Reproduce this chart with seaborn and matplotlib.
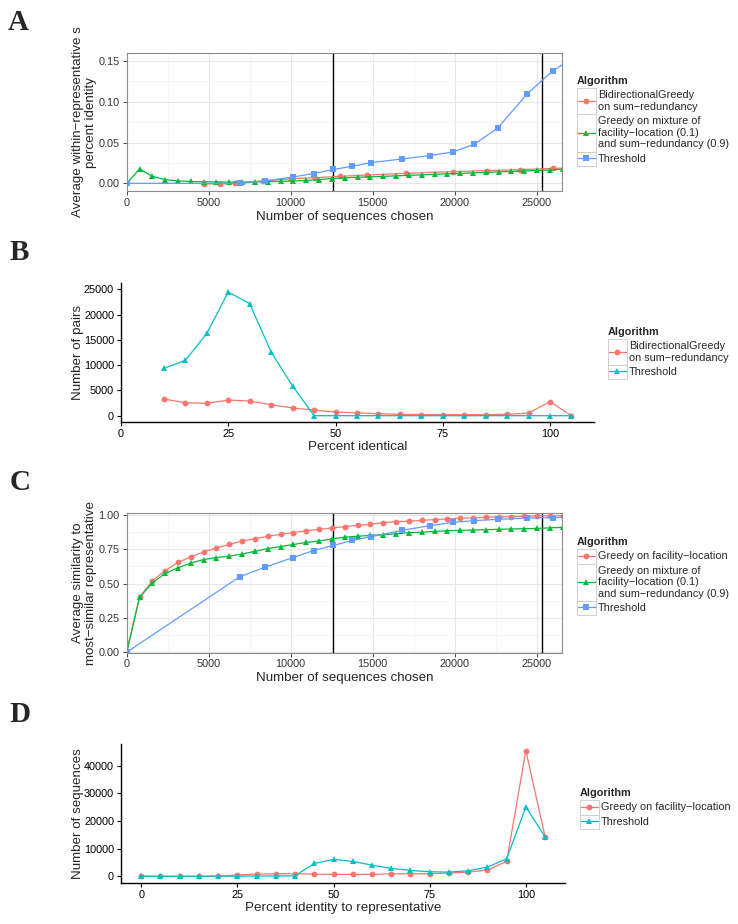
import pandas as pd
import matplotlib
matplotlib.use("Agg")
import matplotlib.pyplot as plt
from matplotlib.ticker import MultipleLocator, FormatStrFormatter
from matplotlib.patches import Rectangle
import seaborn as sns

# ---------------- data ----------------
BIDIR = "BidirectionalGreedy\non sum−redundancy"
MIX = "Greedy on mixture of\nfacility−location (0.1)\nand sum−redundancy (0.9)"
FL = "Greedy on facility−location"
THR = "Threshold"

# panel A : average within-representative percent identity
a_bidir_x = [4700, 5700, 6600, 8300, 10000, 11500, 13000, 14650, 17050, 19900, 21950, 24000, 26000, 27000]
a_bidir_y = [-0.0006, -0.0006, -0.0002, 0.003, 0.0055, 0.007, 0.0086, 0.0102, 0.0123, 0.0143, 0.0156, 0.0168, 0.0182, 0.019]
a_mix_x = [0, 782, 1564, 2346, 3128, 3910, 4692, 5474, 6256, 7038, 7820, 8602, 9384, 10166, 10948,
           11730, 12512, 13294, 14076, 14858, 15640, 16422, 17204, 17986, 18768, 19550, 20332, 21114,
           21896, 22678, 23460, 24242, 25024, 25806, 26588]
a_mix_y = [0, 0.0176, 0.0086, 0.0045, 0.003, 0.0023, 0.002, 0.0017, 0.0015, 0.0015, 0.0017, 0.0021,
           0.0025, 0.0028, 0.0035, 0.0045, 0.0058, 0.0068, 0.0074, 0.008, 0.0086, 0.0092, 0.0098,
           0.0104, 0.011, 0.0116, 0.0122, 0.0128, 0.0134, 0.014, 0.0146, 0.0152, 0.0158, 0.0164, 0.0172]
thr_x = [0, 6880, 8450, 10150, 11400, 12600, 13750, 14900, 16800, 18470, 19900, 21200, 22620, 24430, 25990, 27500]
a_thr_y = [0, 0, 0.003, 0.0078, 0.012, 0.017, 0.021, 0.0254, 0.0299, 0.034, 0.0385, 0.048, 0.0677, 0.110, 0.138, 0.158]

# panel B : number of pairs by percent identical
b_x = [10, 15, 20, 25, 30, 35, 40, 45, 50, 55, 60, 65, 70, 75, 80, 85, 90, 95, 100, 105]
b_bidir = [3300, 2570, 2440, 3100, 2900, 2175, 1520, 1120, 725, 560, 400, 260, 230, 200, 200, 200, 260, 530, 2770, 0]
b_thr = [9360, 10950, 16280, 24460, 22150, 12590, 5870, 0, 0, 0, 0, 0, 0, 0, 0, 0, 0, 0, 0, 0]

# panel C : average similarity to most-similar representative
c_fl_y = [0, 0.40, 0.52, 0.595, 0.654, 0.695, 0.73, 0.76, 0.785, 0.81, 0.827, 0.844, 0.859, 0.871,
          0.885, 0.895, 0.905, 0.915, 0.924, 0.932, 0.944, 0.951, 0.954, 0.961, 0.966, 0.971, 0.976,
          0.978, 0.983, 0.985, 0.988, 0.99, 0.993, 0.995, 0.995]
c_mix_y = [0, 0.40, 0.505, 0.575, 0.615, 0.65, 0.675, 0.69, 0.70, 0.715, 0.735, 0.755, 0.77, 0.785,
           0.80, 0.81, 0.826, 0.838, 0.845, 0.851, 0.856, 0.863, 0.871, 0.874, 0.88, 0.885, 0.888,
           0.89, 0.893, 0.895, 0.898, 0.9, 0.902, 0.906, 0.91]
c_thr_y = [0, 0.549, 0.62, 0.69, 0.741, 0.778, 0.814, 0.841, 0.888, 0.922, 0.946, 0.959, 0.968, 0.978, 0.980, 0.99]

# panel D : number of sequences by percent identity to representative
d_x = [0, 5, 10, 15, 20, 25, 30, 35, 40, 45, 50, 55, 60, 65, 70, 75, 80, 85, 90, 95, 100, 105]
d_fl = [0, 0, 0, 0, 100, 480, 840, 960, 960, 840, 720, 720, 720, 960, 960, 960, 1200, 1560, 2280, 5400, 45500, 14300]
d_thr = [100, 50, 50, 50, 100, 100, 150, 150, 200, 4680, 6130, 5400, 4080, 2880, 2160, 1680, 1560, 2040, 3360, 6370, 25100, 14290]

vlines = [12600, 25340]

# ---------------- style ----------------
sns.set_style("white")
plt.rcParams['font.family'] = ['Liberation Sans', 'DejaVu Sans']

W, H = 738, 924
fig = plt.figure(figsize=(W / 100, H / 100), dpi=100)
legends = []


def px_axes(left, top, right, bottom):
    return fig.add_axes([left / W, 1 - bottom / H, (right - left) / W, (bottom - top) / H])


def frame(*series):
    parts = []
    for name, xs, ys in series:
        parts.append(pd.DataFrame({"x": xs, "y": ys, "Algorithm": name}))
    return pd.concat(parts, ignore_index=True)


def draw(ax, df, order, colors, marks):
    sns.lineplot(data=df, x="x", y="y", hue="Algorithm", style="Algorithm",
                 hue_order=order, style_order=order, palette=dict(zip(order, colors)),
                 markers=dict(zip(order, marks)), dashes=False, estimator=None, sort=True,
                 linewidth=0.9, markersize=4.2, markeredgewidth=0, ax=ax)


def legend(ax, x_px, y_px):
    old = ax.get_legend()
    handles = old.legend_handles
    labels = [t.get_text() for t in old.get_texts()]
    old.remove()
    leg = ax.legend(handles, labels, title="Algorithm", loc="upper left",
                    bbox_to_anchor=(x_px / W, 1 - y_px / H), bbox_transform=fig.transFigure,
                    frameon=False, fontsize=7.8, title_fontsize=7.8, handlelength=1.75,
                    handletextpad=0.2, borderaxespad=0, borderpad=0, labelspacing=0.4,
                    alignment="left")
    leg.get_title().set_fontweight("bold")
    for t in leg.get_texts():
        t.set_linespacing(1.2)
    legends.append(leg)


def bw_style(ax, xmaj, ymaj):
    for s in ax.spines.values():
        s.set_color("#8c8c8c")
        s.set_linewidth(0.8)
    ax.xaxis.set_major_locator(MultipleLocator(xmaj))
    ax.xaxis.set_minor_locator(MultipleLocator(xmaj / 2))
    ax.yaxis.set_major_locator(MultipleLocator(ymaj))
    ax.yaxis.set_minor_locator(MultipleLocator(ymaj / 2))
    ax.grid(True, which="major", color="#e6e6e6", lw=0.8)
    ax.grid(True, which="minor", color="#f3f3f3", lw=0.5)
    ax.set_axisbelow(True)
    ax.tick_params(which="major", bottom=True, left=True, length=3, width=0.7,
                   color="#444444", labelsize=7.8, labelcolor="#333333", pad=2)
    ax.tick_params(which="minor", length=0)
    ax.yaxis.set_major_formatter(FormatStrFormatter("%.2f"))
    for v in vlines:
        ax.axvline(v, color="black", lw=1.0, zorder=1)


def classic_style(ax, xmaj, ymaj):
    ax.spines["top"].set_visible(False)
    ax.spines["right"].set_visible(False)
    for s in ("left", "bottom"):
        ax.spines[s].set_color("black")
        ax.spines[s].set_linewidth(1.0)
    ax.xaxis.set_major_locator(MultipleLocator(xmaj))
    ax.yaxis.set_major_locator(MultipleLocator(ymaj))
    ax.grid(False)
    ax.tick_params(bottom=True, left=True, length=3, width=0.8, color="black",
                   labelsize=7.8, labelcolor="black", pad=2)


LBL = dict(fontsize=9.6, linespacing=1.1)

# ---------------- panel A ----------------
axA = px_axes(126.7, 53, 562, 191)
dfA = frame((BIDIR, a_bidir_x, a_bidir_y), (MIX, a_mix_x, a_mix_y), (THR, thr_x, a_thr_y))
draw(axA, dfA, [BIDIR, MIX, THR], ["#F8766D", "#00BA38", "#619CFF"], ["o", "^", "s"])
axA.set_xlim(0, 26540)
axA.set_ylim(-0.0094, 0.1598)
bw_style(axA, 5000, 0.05)
axA.set_xlabel("Number of sequences chosen", labelpad=2, **LBL)
axA.set_ylabel("Average within−representative s\npercent identity", labelpad=1, **LBL)
legend(axA, 577, 76)

# ---------------- panel B ----------------
axB = px_axes(121, 283.3, 594, 421.7)
dfB = frame((BIDIR, b_x, b_bidir), (THR, b_x, b_thr))
draw(axB, dfB, [BIDIR, THR], ["#F8766D", "#00BFC4"], ["o", "^"])
axB.set_xlim(0, 110.25)
axB.set_ylim(-1190, 26190)
classic_style(axB, 25, 5000)
axB.set_xlabel("Percent identical", labelpad=2, **LBL)
axB.set_ylabel("Number of pairs", labelpad=0, **LBL)
legend(axB, 608, 327)

# ---------------- panel C ----------------
axC = px_axes(126.7, 513.3, 562, 652.5)
dfC = frame((FL, a_mix_x, c_fl_y), (MIX, a_mix_x, c_mix_y), (THR, thr_x, c_thr_y))
draw(axC, dfC, [FL, MIX, THR], ["#F8766D", "#00BA38", "#619CFF"], ["o", "^", "s"])
axC.set_xlim(0, 26540)
axC.set_ylim(-0.002, 1.012)
bw_style(axC, 5000, 0.25)
axC.set_xlabel("Number of sequences chosen", labelpad=2, **LBL)
axC.set_ylabel("Average similarity to\nmost−similar representative", labelpad=1, **LBL)
legend(axC, 577, 537)

# ---------------- panel D ----------------
axD = px_axes(121, 744.3, 565.3, 882.7)
dfD = frame((FL, d_x, d_fl), (THR, d_x, d_thr))
draw(axD, dfD, [FL, THR], ["#F8766D", "#00BFC4"], ["o", "^"])
axD.set_xlim(-5.25, 110.25)
axD.set_ylim(-2275, 47775)
classic_style(axD, 25, 10000)
axD.set_xlabel("Percent identity to representative", labelpad=2, **LBL)
axD.set_ylabel("Number of sequences", labelpad=0, **LBL)
legend(axD, 580, 788)

# ---------------- panel letters ----------------
for letter, xp, yp in [("A", 8, 30), ("B", 10, 260), ("C", 10, 490), ("D", 9, 722)]:
    fig.text(xp / W, 1 - yp / H, letter, fontsize=21, fontweight="bold",
             family="Liberation Serif", va="baseline", ha="left")

# grey outlined legend keys, as in the original
fig.canvas.draw()
for leg in legends:
    fs = leg.get_texts()[0].get_fontsize() * fig.dpi / 72
    boxes = [t.get_window_extent() for t in leg.get_texts()]
    x1 = boxes[0].x0 - 0.2 * fs
    x0 = x1 - 1.75 * fs
    edges = [boxes[0].y1 + 0.2 * fs]
    for a, b in zip(boxes[:-1], boxes[1:]):
        edges.append((a.y0 + b.y1) / 2)
    edges.append(boxes[-1].y0 - 0.2 * fs)
    for top, bot in zip(edges[:-1], edges[1:]):
        fig.patches.append(Rectangle((x0 / W, bot / H), (x1 - x0) / W, (top - bot) / H,
                                     transform=fig.transFigure, fill=False,
                                     edgecolor="#d0d0d0", lw=0.7, zorder=0))

fig.savefig("out.png", dpi=100)
